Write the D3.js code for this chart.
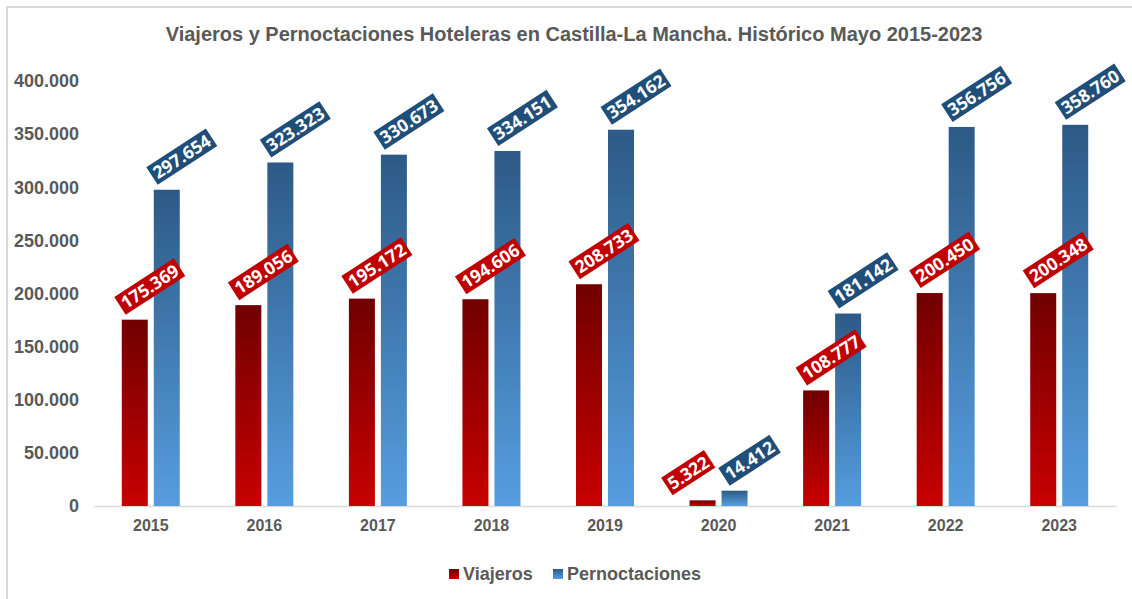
<!DOCTYPE html>
<html>
<head>
<meta charset="utf-8">
<script src="https://cdn.jsdelivr.net/npm/d3@7"></script>
<style>
  body { margin: 0; background: #fff; }
  svg { display: block; }
</style>
</head>
<body>
<svg id="chart" width="1132" height="599"></svg>
<script>
// Data
const years = ["2015", "2016", "2017", "2018", "2019", "2020", "2021", "2022", "2023"];
const viajeros = [175369, 189056, 195172, 194606, 208733, 5322, 108777, 200450, 200348];
const pernoctaciones = [297654, 323323, 330673, 334151, 354162, 14412, 181142, 356756, 358760];
const yTicks = [0, 50000, 100000, 150000, 200000, 250000, 300000, 350000, 400000];
const seriesNames = ["Viajeros", "Pernoctaciones"];

const width = 1132, height = 599;
const textGray = "#595959";

const svg = d3.select("#chart");
const esLocale = d3.formatLocale({ decimal: ",", thousands: ".", grouping: [3], currency: ["", " €"] });
const fmt = esLocale.format(",d");

// Gradients for bars
const defs = svg.append("defs");
function addGradient(id, top, bottom) {
  const g = defs.append("linearGradient").attr("id", id)
    .attr("x1", 0).attr("y1", 0).attr("x2", 0).attr("y2", 1);
  g.append("stop").attr("offset", "0%").attr("stop-color", top);
  g.append("stop").attr("offset", "100%").attr("stop-color", bottom);
}
addGradient("grad-red", "#700000", "#c80000");
addGradient("grad-blue", "#2d5a86", "#569ee0");

const seriesStyle = [
  { values: viajeros, fill: "url(#grad-red)", label: "#c00000" },
  { values: pernoctaciones, fill: "url(#grad-blue)", label: "#1f4e79" }
];

// Chart border
svg.append("rect")
  .attr("x", 7).attr("y", 7)
  .attr("width", width + 10).attr("height", height - 14 + 20)
  .attr("fill", "none").attr("stroke", "#d9d9d9").attr("stroke-width", 2);

// Scales
const x = d3.scaleBand().domain(years).range([94, 1116]).paddingInner(0).paddingOuter(0);
const y = d3.scaleLinear().domain([0, 400000]).range([506, 81]);

const barW = 26, barGap = 6;

// Title
svg.append("text")
  .attr("x", 574).attr("y", 41)
  .attr("text-anchor", "middle")
  .attr("font-family", "Liberation Sans, Arial, sans-serif")
  .attr("font-weight", "bold").attr("font-size", 20)
  .attr("fill", textGray)
  .text("Viajeros y Pernoctaciones Hoteleras en Castilla-La Mancha. Histórico Mayo 2015-2023");

// Y axis labels (no line, no ticks)
const yAxis = svg.append("g")
  .attr("transform", "translate(79,0)")
  .call(d3.axisLeft(y).tickValues(yTicks).tickSize(0).tickPadding(0).tickFormat(d => fmt(d)));
yAxis.select(".domain").remove();
yAxis.selectAll("text")
  .attr("font-family", "Liberation Sans, Arial, sans-serif")
  .attr("font-weight", "bold").attr("font-size", 18)
  .attr("fill", textGray);

// X axis
const xAxis = svg.append("g")
  .attr("transform", "translate(0,506)")
  .call(d3.axisBottom(x).tickSize(0).tickPadding(13.5));
xAxis.select(".domain").attr("stroke", "#d9d9d9").attr("stroke-width", 1.5);
xAxis.selectAll("text")
  .attr("font-family", "Liberation Sans, Arial, sans-serif")
  .attr("font-weight", "bold").attr("font-size", 16)
  .attr("fill", textGray);

// Bars
const barsLayer = svg.append("g");
const labelsLayer = svg.append("g");

seriesStyle.forEach((s, si) => {
  const offset = si === 0 ? -barGap / 2 - barW : barGap / 2;
  barsLayer.selectAll(".bar-" + si)
    .data(years)
    .enter()
    .append("rect")
    .attr("class", "bar-" + si)
    .attr("x", d => x(d) + x.bandwidth() / 2 + offset)
    .attr("y", (d, i) => y(s.values[i]))
    .attr("width", barW)
    .attr("height", (d, i) => y(0) - y(s.values[i]))
    .attr("fill", s.fill);
});

// Rotated value labels
const angle = -33;
const rad = Math.abs(angle) * Math.PI / 180;
const labelH = 21;

years.forEach((yr, i) => {
  const placed = [];
  seriesStyle.forEach((s, si) => {
    const offset = si === 0 ? -barGap / 2 - barW / 2 : barGap / 2 + barW / 2;
    const cx = x(yr) + x.bandwidth() / 2 + offset;
    const top = y(s.values[i]);
    const g = labelsLayer.append("g");
    const t = g.append("text")
      .attr("text-anchor", "middle")
      .attr("dy", "0.36em")
      .attr("font-family", "Open Sans, sans-serif")
      .attr("font-weight", "bold").attr("font-size", 17.5)
      .attr("fill", "#ffffff")
      .text(fmt(s.values[i]));
    const tw = t.node().getComputedTextLength();
    const w = tw + 6, h = labelH;
    g.insert("rect", "text")
      .attr("x", -w / 2).attr("y", -h / 2)
      .attr("width", w).attr("height", h)
      .attr("fill", s.label);
    const bbH = w * Math.sin(rad) + h * Math.cos(rad);
    placed.push({ g, lx: cx + 15, ly: top - 5 - bbH / 2, w });
  });

  // If the two labels collide, push the first one to the left (as Excel does)
  const a = placed[0], b = placed[1];
  const dx = b.lx - a.lx, dy = b.ly - a.ly;
  const du = dx * Math.cos(rad) - dy * Math.sin(rad);
  const dv = dx * Math.sin(rad) + dy * Math.cos(rad);
  if (Math.abs(du) < (a.w + b.w) / 2 && Math.abs(dv) < labelH + 2) {
    const need = (labelH + 2 - dv) / Math.sin(rad);
    a.lx -= need;
  }
  placed.forEach(p => p.g.attr("transform", `translate(${p.lx},${p.ly}) rotate(${angle})`));
});

// Legend
const legend = svg.append("g");
const legendItems = [
  { name: seriesNames[0], fill: "url(#grad-red)", x: 449 },
  { name: seriesNames[1], fill: "url(#grad-blue)", x: 553 }
];
legendItems.forEach(it => {
  legend.append("rect")
    .attr("x", it.x).attr("y", 569)
    .attr("width", 10).attr("height", 10)
    .attr("fill", it.fill);
  legend.append("text")
    .attr("x", it.x + 14).attr("y", 580)
    .attr("font-family", "Liberation Sans, Arial, sans-serif")
    .attr("font-weight", "bold").attr("font-size", 18)
    .attr("fill", textGray)
    .text(it.name);
});
</script>
</body>
</html>
